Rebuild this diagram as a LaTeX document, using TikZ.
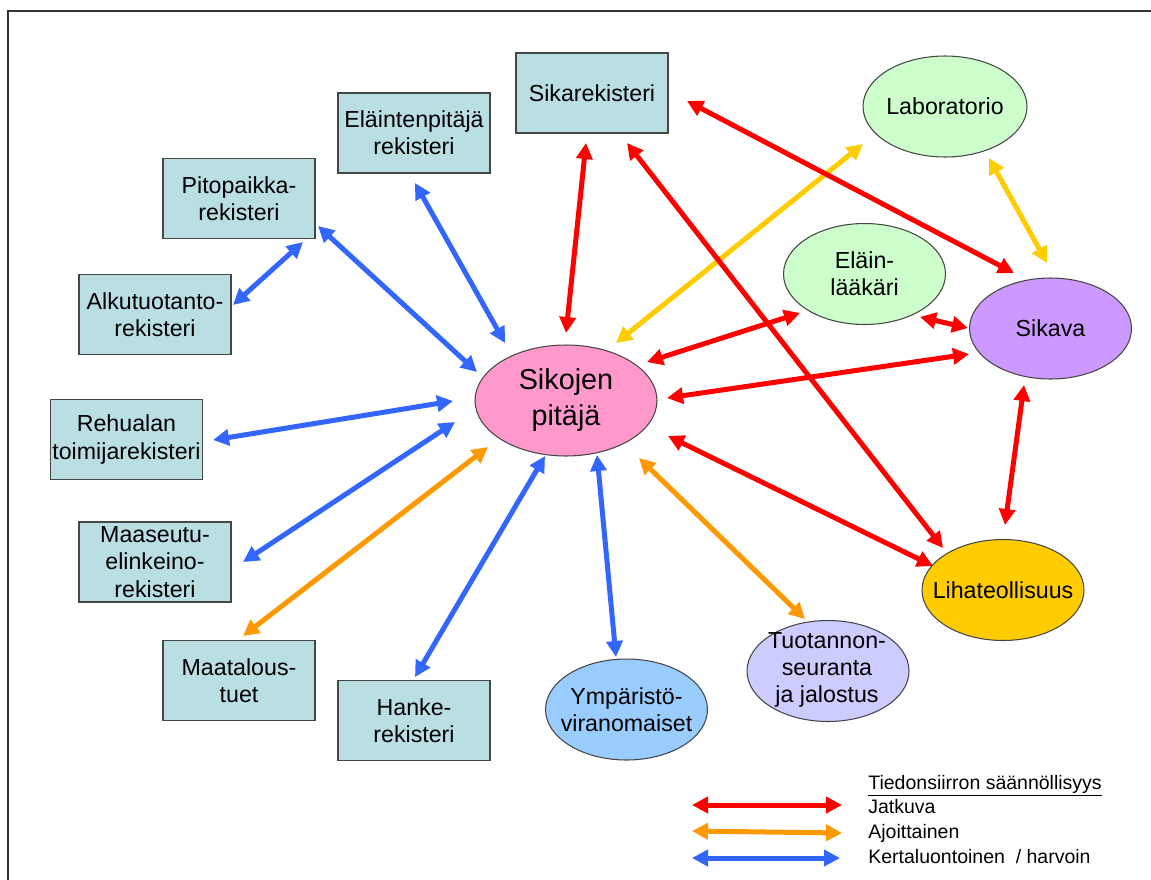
\documentclass[tikz,border=0pt]{standalone}
\usepackage{fontspec}
\setmainfont{Liberation Sans}
\usetikzlibrary{arrows.meta,shapes.geometric,calc}

\definecolor{regbox}{RGB}{186,223,227}
\definecolor{boxline}{RGB}{70,70,70}
\definecolor{pitajac}{RGB}{255,153,204}
\definecolor{greenc}{RGB}{204,255,204}
\definecolor{sikavac}{RGB}{204,153,255}
\definecolor{lihac}{RGB}{255,204,0}
\definecolor{ympc}{RGB}{153,204,255}
\definecolor{tuotc}{RGB}{204,204,255}
\definecolor{linkred}{RGB}{255,0,0}
\definecolor{linkorange}{RGB}{255,153,0}
\definecolor{linkyellow}{RGB}{255,204,0}
\definecolor{linkblue}{RGB}{51,102,255}

\newcommand\regfont{\fontsize{13.2}{15.6}\selectfont}
\newcommand\bigfont{\fontsize{16.4}{20.5}\selectfont}
\newcommand\legfont{\fontsize{11.1}{13}\selectfont}

\begin{document}
\begin{tikzpicture}[x=0.02cm,y=-0.02cm,
  reg/.style={rectangle, draw=boxline, line width=0.8pt, fill=regbox,
    minimum width=3.04cm, minimum height=1.6cm, inner sep=0pt,
    align=center, font=\regfont},
  org/.style={ellipse, draw=boxline, line width=0.6pt,
    minimum width=3.24cm, minimum height=2.02cm, inner sep=0pt},
  orgtxt/.style={align=center, font=\regfont, inner sep=0pt},
  tipshape/.tip={Triangle[length=0.32cm,width=0.32cm]},
  link/.style={line width=0.1cm, tipshape-tipshape},
  redlink/.style={link, draw=linkred},
  orangelink/.style={link, draw=linkorange},
  yellowlink/.style={link, draw=linkyellow},
  bluelink/.style={link, draw=linkblue},
  legtxt/.style={anchor=base west, font=\legfont, inner sep=0pt}]

\useasboundingbox (0,0) rectangle (1151,879);
\fill[white] (0,0) rectangle (1151,879);

% outer frame
\draw[line width=1.1pt, black!80] (8,900) -- (8,11) -- (1170,11);

% registers
\node[reg] (sr) at (592,93)    {Sikarekisteri};
\node[reg] (ep) at (414,133)   {Eläintenpitäjä\\rekisteri};
\node[reg] (pp) at (239,198.5) {Pitopaikka-\\rekisteri};
\node[reg] (at) at (155,314.5) {Alkutuotanto-\\rekisteri};
\node[reg] (rh) at (126.5,439.5) {Rehualan\\toimijarekisteri};
\node[reg] (ms) at (155,562)   {Maaseutu-\\elinkeino-\\rekisteri};
\node[reg] (mt) at (239,680.5) {Maatalous-\\tuet};
\node[reg] (hk) at (414,720.5) {Hanke-\\rekisteri};

% organisations
\node[org, fill=pitajac, minimum width=3.64cm, minimum height=2.22cm] (sp) at (566,400.5) {};
\node[orgtxt, font=\bigfont] (sptxt) at (sp) {Sikojen\\pitäjä};
\node[org, fill=ympc] (yv) at (626.5,709.5) {};
\node[orgtxt] (yvtxt) at (yv) {Ympäristö-\\viranomaiset};
\node[org, fill=tuotc] (tj) at (828,671) {};
\node[orgtxt] (tjtxt) at (827,670) {Tuotannon-\\seuranta\\ja jalostus};
\node[org, fill=lihac] (lt) at (1003,590) {};
\node[orgtxt] (lttxt) at (lt) {Lihateollisuus};
\node[org, fill=sikavac] (sk) at (1050.5,328.5) {};
\node[orgtxt] (sktxt) at (sk) {Sikava};
\node[org, fill=greenc] (el) at (864.5,274) {};
\node[orgtxt] (eltxt) at (el) {Eläin-\\lääkäri};
\node[org, fill=greenc, minimum width=3.28cm] (lab) at (945,106.5) {};
\node[orgtxt] (labtxt) at (lab) {Laboratorio};

% occasional links
\draw[yellowlink] ($(lab)+(-82,37.5)$) -- ($(sp)+(50,-57.5)$);
\draw[yellowlink] ($(lab)+(44,51.5)$) -- ($(sk)+(-3.5,-65.5)$);
\draw[orangelink] ($(mt)+(4,-44.5)$) -- ($(sp)+(-78,46.5)$);
\draw[orangelink] ($(tj)+(-23,-52)$) -- ($(sp)+(73,57.5)$);

% one-off links
\draw[bluelink] ($(pp)+(64,43.5)$) -- ($(at)+(78,-9.5)$);
\draw[bluelink] ($(pp)+(79,27.5)$) -- ($(sp)+(-89,-28.5)$);
\draw[bluelink] ($(ep)+(1,50)$) -- ($(sp)+(-61,-57.5)$);
\draw[bluelink] ($(rh)+(86.5,0.5)$) -- ($(sp)+(-113,0.5)$);
\draw[bluelink] ($(ms)+(88,0)$) -- ($(sp)+(-111,21.5)$);
\draw[bluelink] ($(hk)+(1,-43.5)$) -- ($(sp)+(-21,55.5)$);
\draw[bluelink] ($(yv)+(-10.5,-52.5)$) -- ($(sp)+(31,54.5)$);

% continuous links
\draw[redlink] ($(sr)+(-6,50)$) -- ($(sp)+(0,-67.5)$);
\draw[redlink] ($(sr)+(95,8)$) -- ($(sk)+(-36.5,-55.5)$);
\draw[redlink] ($(sr)+(35,50)$) -- ($(lt)+(-60,-42)$);
\draw[redlink] ($(el)+(-64.5,39)$) -- ($(sp)+(81,-38.5)$);
\draw[redlink] ($(el)+(55.5,43)$) -- ($(sk)+(-82.5,-0.5)$);
\draw[redlink] ($(sk)+(-81.5,25.5)$) -- ($(sp)+(101,-2.5)$);
\draw[redlink] ($(sp)+(102,35.5)$) -- ($(lt)+(-70,-24)$);
\draw[redlink] ($(sk)+(-26.5,56.5)$) -- ($(lt)+(2,-65)$);

% legend
\coordinate (lr1) at (692,805);
\coordinate (lr2) at (842,805);
\coordinate (lo1) at (692,831);
\coordinate (lo2) at (842,833);
\coordinate (lb1) at (692,858);
\coordinate (lb2) at (840,858);
\draw[redlink] (lr1) -- (lr2);
\draw[orangelink] (lo1) -- (lo2);
\draw[bluelink] (lb1) -- (lb2);
\node[legtxt] (legtitle) at (868,789) {\underline{Tiedonsiirron säännöllisyys}};
\node[legtxt] (legred) at (868,813) {Jatkuva};
\node[legtxt] (legorange) at (868,838) {Ajoittainen};
\node[legtxt] (legblue) at (868,863) {Kertaluontoinen\ \ / harvoin};
\end{tikzpicture}
\end{document}
